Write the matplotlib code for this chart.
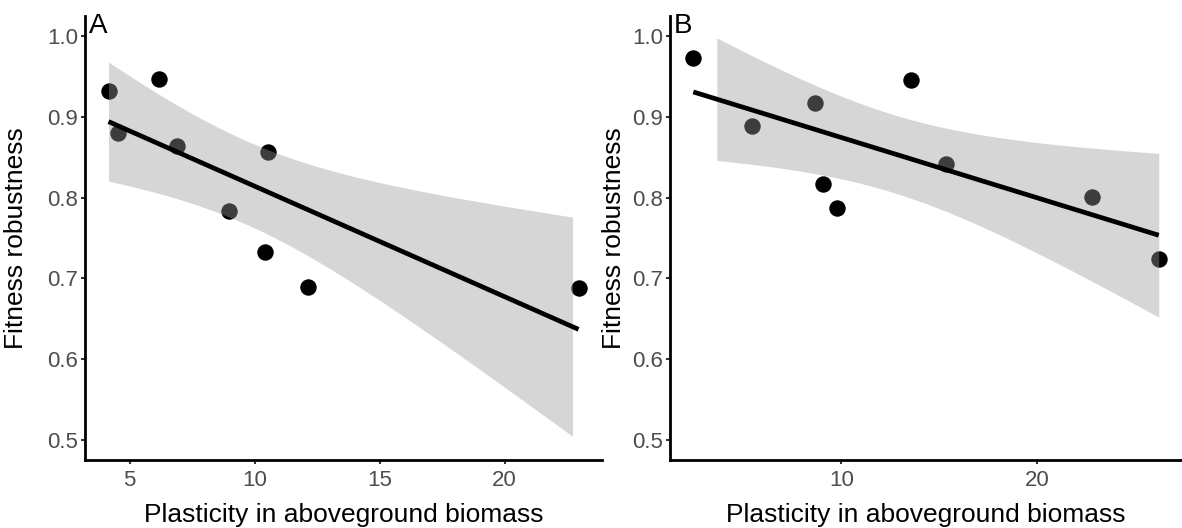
import numpy as np
import matplotlib
matplotlib.use("Agg")
import matplotlib.pyplot as plt

plt.rcParams['font.family'] = ['Liberation Sans', 'DejaVu Sans']

# panel A
plastA = [4.15, 4.52, 6.16, 6.88, 8.96, 10.52, 10.40, 12.13, 22.96]
robustA = [0.932, 0.880, 0.947, 0.864, 0.783, 0.857, 0.733, 0.689, 0.688]
# panel B
plastB = [2.43, 5.45, 8.65, 9.07, 9.80, 13.54, 15.36, 22.83, 26.22]
robustB = [0.973, 0.889, 0.917, 0.817, 0.787, 0.946, 0.842, 0.801, 0.724]

xticksA = [5, 10, 15, 20]
xticksB = [10, 20]
yticks = [0.5, 0.6, 0.7, 0.8, 0.9, 1.0]
ylims = (0.5, 1.0)
tags = ['A', 'B']

T975_DF7 = 2.364624  # t quantile for 95% CI, n = 9

W, H = 1182, 528


def lm_band(x, y, n=80):
    x = np.asarray(x); y = np.asarray(y)
    b1, b0 = np.polyfit(x, y, 1)
    res = y - (b0 + b1 * x)
    s = np.sqrt(np.sum(res ** 2) / (len(x) - 2))
    grid = np.linspace(x.min(), x.max(), n)
    sxx = np.sum((x - x.mean()) ** 2)
    se = s * np.sqrt(1.0 / len(x) + (grid - x.mean()) ** 2 / sxx)
    fit = b0 + b1 * grid
    return grid, fit, fit - T975_DF7 * se, fit + T975_DF7 * se


def panel(ax, x, y, xticks, tag, tag_px):
    ax.scatter(x, y, s=140, color='black', lw=0, zorder=2)
    grid, fit, lo, hi = lm_band(x, y)
    # ggplot drops ribbon rows that fall outside the y limits
    ok = (lo >= ylims[0]) & (hi <= ylims[1])
    ax.fill_between(grid[ok], lo[ok], hi[ok], color='#999999', alpha=0.4, lw=0, zorder=3)
    ax.plot(grid, fit, color='black', lw=3.4, zorder=4, solid_capstyle='butt')

    xr = max(x) - min(x)
    ax.set_xlim(min(x) - 0.05 * xr, max(x) + 0.05 * xr)
    yr = ylims[1] - ylims[0]
    ax.set_ylim(ylims[0] - 0.05 * yr, ylims[1] + 0.05 * yr)
    ax.set_xticks(xticks)
    ax.set_xticklabels([str(t) for t in xticks])
    ax.set_yticks(yticks)
    ax.set_yticklabels(['%.1f' % t for t in yticks])

    for side in ['top', 'right']:
        ax.spines[side].set_visible(False)
    for side in ['left', 'bottom']:
        ax.spines[side].set_linewidth(2.0)
        ax.spines[side].set_color('black')
    ax.tick_params(axis='both', length=3, width=1.5, color='#333333',
                   labelcolor='#4D4D4D', labelsize=16)
    ax.tick_params(axis='x', pad=4)
    ax.tick_params(axis='y', pad=2)

    l, b, w, h = ax.get_position().bounds
    fig.text(l + w / 2, 1 - 522 / H, 'Plasticity in aboveground biomass',
             ha='center', va='baseline', fontsize=19)
    fig.text(tag_px[0] / W, 1 - 33 / H, tag, ha='left', va='baseline', fontsize=20)
    fig.text(tag_px[1] / W, b + h / 2, 'Fitness robustness', rotation=90,
             ha='center', va='center', fontsize=19)


fig = plt.figure(figsize=(W / 100, H / 100), dpi=100)
axA = fig.add_axes([85 / W, 1 - 460 / H, 517 / W, 444 / H])
axB = fig.add_axes([670 / W, 1 - 460 / H, 512 / W, 444 / H])

panel(axA, plastA, robustA, xticksA, tags[0], (89, 16))
panel(axB, plastB, robustB, xticksB, tags[1], (674, 614))

fig.savefig('out.png', dpi=100)
